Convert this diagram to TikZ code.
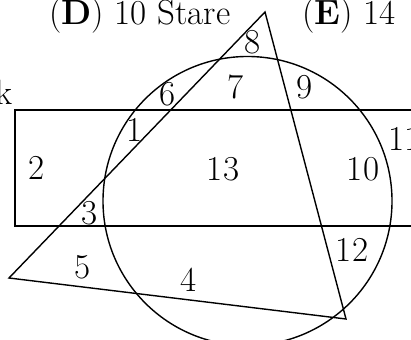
\documentclass[tikz,border=0pt]{standalone}
\begin{document}
\begin{tikzpicture}[x=0.5pt,y=-0.5pt,
  shape line/.style={line width=0.7pt},
  lbl/.style={inner sep=0pt,font=\fontsize{17.5}{20}\selectfont}]
\useasboundingbox (0,0) rectangle (411,340);
\clip (0,0) rectangle (411,340);
% rectangle
\coordinate (r1) at (15,110);
\coordinate (r2) at (430,226);
\draw[shape line] (r1) rectangle (r2);
% circle
\coordinate (c) at (247.5,201);
\draw[shape line] (c) circle[radius=144.5];
% triangle
\coordinate (tA) at (265,12);
\coordinate (tB) at (9,278);
\coordinate (tC) at (346,319);
\draw[shape line,line join=miter] (tA) -- (tB) -- (tC) -- cycle;
% header text
\node[lbl,anchor=base west] (hD) at (49,24.5) {(\textbf{D}) 10 Stare};
\node[lbl,anchor=base west] (hE) at (302,24.5) {(\textbf{E}) 14};
% region labels
\node[lbl,anchor=base east] (k) at (13,105) {k};
\node[lbl] (n1) at (135,130) {1};
\node[lbl] (n2) at (37,168) {2};
\node[lbl] (n3) at (90,213) {3};
\node[lbl] (n4) at (189,280) {4};
\node[lbl] (n5) at (83,267) {5};
\node[lbl] (n6) at (168,94) {6};
\node[lbl] (n7) at (236,87) {7};
\node[lbl] (n8) at (253,42) {8};
\node[lbl] (n9) at (305,87) {9};
\node[lbl] (n10) at (363,169) {10};
\node[lbl,anchor=west] (n11) at (388,139) {11};
\node[lbl] (n12) at (352,250) {12};
\node[lbl] (n13) at (223,169) {13};
\end{tikzpicture}
\end{document}
